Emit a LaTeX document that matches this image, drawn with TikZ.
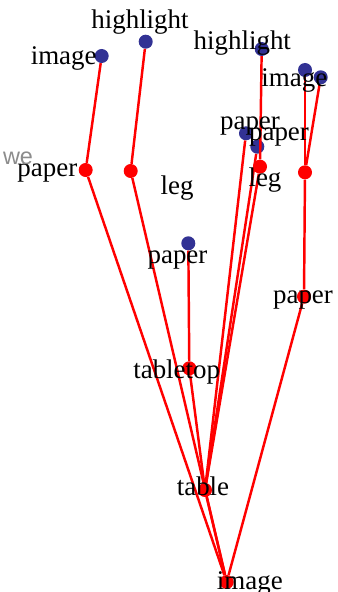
\documentclass[tikz,border=0pt]{standalone}
\usepackage{fontspec}
\setmainfont{Liberation Serif}
\newfontfamily\wefont{Liberation Sans}
\definecolor{dotblue}{RGB}{50,50,148}
\begin{document}
\begin{tikzpicture}[x=0.03cm, y=-0.03cm,
    word/.style={font=\fontsize{23}{26}\selectfont, inner sep=0pt},
    bluedot/.style={circle, fill=dotblue, inner sep=0pt, minimum size=0.42cm},
    reddot/.style={circle, fill=red, inner sep=0pt, minimum size=0.42cm},
    link/.style={red, line width=2.1pt}]
  \useasboundingbox[fill=white] (0,0) rectangle (337,592);
  % leaves
  \node[bluedot] (imgA) at (101.7,56) {};
  \node[bluedot] (hlA) at (145.7,41.7) {};
  \node[bluedot] (hlB) at (261.7,49) {};
  \node[bluedot] (imgB) at (305,70) {};
  \node[bluedot] (imgC) at (320.7,77.3) {};
  \node[bluedot] (papA) at (246,133.3) {};
  \node[bluedot] (papB) at (257.3,146.7) {};
  \node[bluedot] (papC) at (188.3,243.3) {};
  % inner nodes
  \node[reddot] (paperL) at (85.7,170) {};
  \node[reddot] (legA) at (130.7,171) {};
  \node[reddot] (legB) at (260,166.7) {};
  \node[reddot] (legC) at (305,172.3) {};
  \node[reddot] (paperR) at (304,296.7) {};
  \node[reddot] (tabletop) at (189.3,368.3) {};
  \node[reddot] (table) at (205,490) {};
  \node[reddot] (root) at (226.7,582) {};
  \foreach \a/\b in {imgA/paperL, hlA/legA, hlB/legB, imgB/legC, imgC/legC,
      papA/table, papB/table, legB/table, legC/paperR, paperR/root,
      papC/tabletop, tabletop/table, paperL/root, legA/root, table/root}
    \draw[link] (\a) -- (\b);
  % labels
  \node[word] (timgA) at (63.7,58) {image};
  \node[word] (thlA) at (140,21.7) {highlight};
  \node[word] (thlB) at (242.3,43) {highlight};
  \node[word] (timgB) at (294.3,80) {image};
  \node[word] (tpapA) at (250,126) {paper};
  \node[word] (tpapB) at (279,136.7) {paper};
  \node[word] (tpaperL) at (47.3,173) {paper};
  \node[word] (tlegA) at (177.2,188) {leg};
  \node[word] (tlegB) at (265,180) {leg};
  \node[word] (tpapC) at (177.5,260) {paper};
  \node[word] (tpaperR) at (303,300) {paper};
  \node[word] (ttabletop) at (176.7,371.7) {tabletop};
  \node[word] (ttable) at (203,486) {table};
  \node[word] (troot) at (249.8,583) {image};
  \node[font=\wefont\fontsize{20}{22}\selectfont, text=black!45, inner sep=0pt] (we) at (18,158) {we};
\end{tikzpicture}
\end{document}
